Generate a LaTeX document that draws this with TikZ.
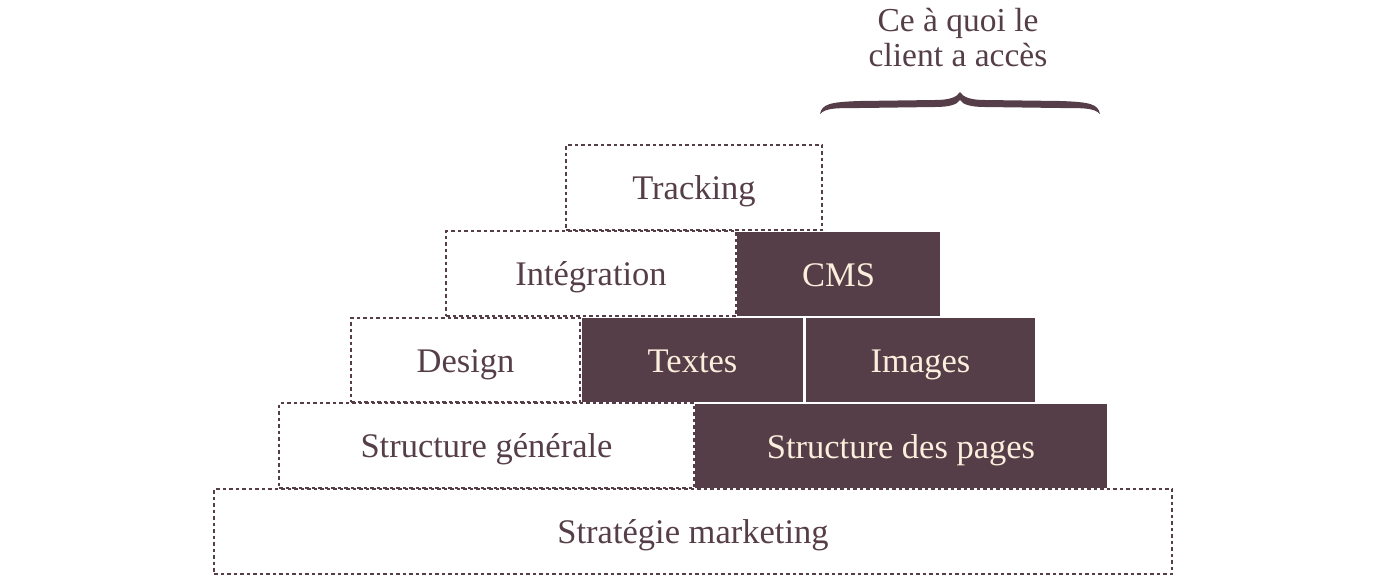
\documentclass[tikz,border=0pt]{standalone}
\usepackage{fontspec}
\setmainfont{Liberation Serif}
\definecolor{plum}{HTML}{553E48}
\definecolor{cream}{HTML}{FBEEDD}
\begin{document}
\begin{tikzpicture}[x=1pt,y=-1pt,
  base/.style={rectangle, inner sep=0pt, font=\fontsize{34.5}{36}\selectfont, text height=24pt, text depth=0pt},
  lbox/.style={base, draw=plum, line width=1.8pt, dash pattern=on 3.5pt off 3pt, text=plum},
  dbox/.style={base, fill=plum, text=cream},
  lbl/.style={align=center, text=plum, font=\fontsize{33.5}{35}\selectfont}]
\useasboundingbox (0,0) rectangle (1388,576);
\node[lbox, minimum width=958pt, minimum height=85pt] (strat) at (693,531.5) {Stratégie marketing};
\node[lbox, minimum width=415pt, minimum height=85pt] (sgen) at (486.5,445.5) {Structure générale};
\node[dbox, minimum width=412pt, minimum height=84pt] (spages) at (901,446) {Structure des pages};
\node[lbox, minimum width=229pt, minimum height=84pt] (design) at (465.5,360) {Design};
\node[dbox, minimum width=221pt, minimum height=84pt] (textes) at (692.5,360) {Textes};
\node[dbox, minimum width=229pt, minimum height=84pt] (images) at (920.5,360) {Images};
\node[lbox, minimum width=290pt, minimum height=85pt] (integ) at (591,273.5) {Intégration};
\node[dbox, minimum width=203pt, minimum height=84pt] (cms) at (838.5,274) {CMS};
\node[lbox, minimum width=256pt, minimum height=85pt] (track) at (694,187.5) {Tracking};
\node[lbl] (client) at (958,38) {Ce à quoi le\\client a accès};
\fill[plum] (820,114) .. controls (822,104) and (830,102) .. (860,101) -- (935,100)
  .. controls (950,100) and (957,97) .. (960,92)
  .. controls (963,97) and (970,100) .. (985,100) -- (1060,101)
  .. controls (1090,102) and (1098,104) .. (1100,114)
  .. controls (1094,108) and (1085,108) .. (1060,108) -- (985,107)
  .. controls (972,107) and (963,105) .. (960,100)
  .. controls (957,105) and (948,107) .. (935,107) -- (860,108)
  .. controls (835,108) and (826,108) .. (820,114) -- cycle;
\end{tikzpicture}
\end{document}
